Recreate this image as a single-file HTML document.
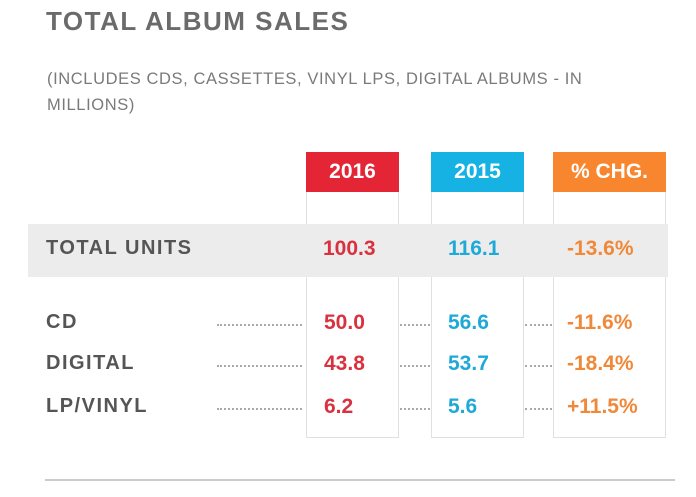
<!DOCTYPE html>
<html><head><meta charset="utf-8"><style>
body{margin:0;width:696px;height:497px;background:#fff;font-family:"Liberation Sans",sans-serif;position:relative;overflow:hidden}
.a{position:absolute}
.t{left:46px;top:6px;font-size:26px;font-weight:bold;color:#6b6b6b;letter-spacing:1.5px}
.s{left:47px;top:66px;font-size:16.5px;color:#7a7a7a;line-height:26px;letter-spacing:.6px}
.col{border:1.5px solid #e0e0e0;border-top:none;box-sizing:border-box}
.hd{color:#fff;font-weight:bold;font-size:21px;text-align:center;line-height:40px}
.band{left:28px;top:224px;width:640px;height:53px;background:#ececec}
.lab{left:46px;font-weight:bold;color:#555;font-size:20px;letter-spacing:1.5px}
.v{font-weight:bold;font-size:21px}
.dot{border-top:2px dotted #aaa;height:0}
</style></head><body>
<div class="a t">TOTAL ALBUM SALES</div>
<div class="a s">(INCLUDES CDS, CASSETTES, VINYL LPS, DIGITAL ALBUMS - IN<br>MILLIONS)</div>
<div class="a col" style="left:306px;top:192px;width:93px;height:246px"></div>
<div class="a col" style="left:431px;top:192px;width:93px;height:246px"></div>
<div class="a col" style="left:553px;top:192px;width:113px;height:246px"></div>
<div class="a hd" style="left:306px;top:152px;width:93px;background:#e42535">2016</div>
<div class="a hd" style="left:431px;top:152px;width:93px;background:#17b2e4">2015</div>
<div class="a hd" style="left:553px;top:152px;width:113px;background:#f7862e">% CHG.</div>
<div class="a band"></div>
<div id="rows"></div>
<div class="a" style="left:45px;top:479px;width:630px;height:2px;background:#ccc"></div>
<script>
const labels=["TOTAL UNITS","CD","DIGITAL","LP/VINYL"];
const v2016=["100.3","50.0","43.8","6.2"];
const v2015=["116.1","56.6","53.7","5.6"];
const chg=["-13.6%","-11.6%","-18.4%","+11.5%"];
const tops=[237,311,352,395];
const r=document.getElementById('rows');
function add(html,l,t,extra,name){const d=document.createElement('div');d.className='a '+extra;d.style.left=l+'px';d.style.top=t+'px';d.textContent=html;


r.appendChild(d);return d;}
labels.forEach((lb,i)=>{const t=tops[i];
add(lb,46,t,'lab','row-label');
add(v2016[i],i==0?323:324,t,'v','value-2016').style.color='#d9313f';
add(v2015[i],448,t,'v','value-2015').style.color='#1fa9d8';
add(chg[i],567,t,'v','value-pct-change').style.color='#f0883a';
if(i>0){[[217,85],[400,30],[525,27]].forEach(p=>{const d=add('',p[0],t+13,'dot','dotted-leader');d.style.width=p[1]+'px';});}
});
</script>
</body></html>
